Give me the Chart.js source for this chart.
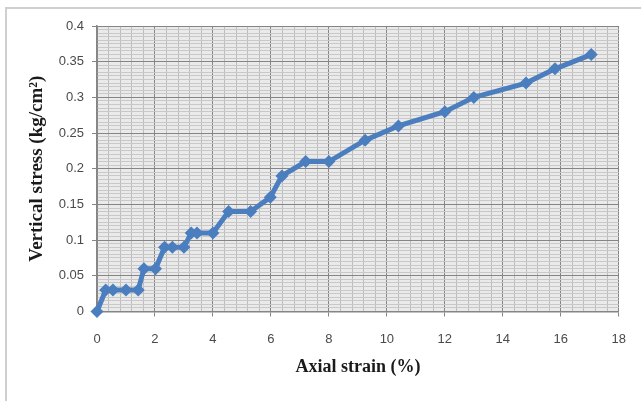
<!DOCTYPE html>
<html>
<head>
<meta charset="utf-8">
<script src="https://cdn.jsdelivr.net/npm/chart.js@4/dist/chart.umd.min.js"></script>
<style>
  html, body { margin: 0; padding: 0; background: #ffffff; overflow: hidden; }
  #wrap { position: relative; width: 641px; height: 401px; }
  #frame { position: absolute; left: 5px; top: 7px; width: 660px; height: 420px;
           border: 2px solid #cfcfcf; box-sizing: border-box; pointer-events: none; }
</style>
</head>
<body>
<div id="wrap">
  <canvas id="c" width="641" height="401"></canvas>
  <div id="frame"></div>
</div>
<script>
// Data
const axialStrain = [0, 0.3, 0.55, 1.0, 1.42, 1.62, 2.02, 2.33, 2.6, 3.0, 3.25, 3.45, 4.0, 4.54, 5.3, 5.98, 6.38, 7.2, 8.0, 9.25, 10.4, 12.0, 13.0, 14.8, 15.8, 17.05];
const verticalStress = [0, 0.03, 0.03, 0.03, 0.03, 0.06, 0.06, 0.09, 0.09, 0.09, 0.11, 0.11, 0.11, 0.14, 0.14, 0.16, 0.19, 0.21, 0.21, 0.24, 0.26, 0.28, 0.30, 0.32, 0.34, 0.36];
const xTitle = 'Axial strain (%)';
const yTitle = 'Vertical stress (kg/cm\u00B2)';
const xRange = [0, 18];
const yRange = [0, 0.4];
const xMajor = 2, xMinor = 0.4;
const yMajor = 0.05, yMinor = 0.005;

const points = axialStrain.map((x, i) => ({ x: x, y: verticalStress[i] }));

function isMajor(v, step) {
  const r = v / step;
  return Math.abs(r - Math.round(r)) < 1e-6;
}

const plotBg = {
  id: 'plotBg',
  beforeDraw(chart) {
    const a = chart.chartArea, ctx = chart.ctx;
    ctx.save();
    ctx.fillStyle = '#eaeaea';
    ctx.fillRect(a.left, a.top, a.right - a.left, a.bottom - a.top);
    ctx.restore();
  }
};

const tickFont = { family: "'Liberation Sans', Arial, sans-serif", size: 13 };
const tickColor = '#4a4a4a';

new Chart(document.getElementById('c'), {
  type: 'scatter',
  data: {
    datasets: [{
      data: points,
      showLine: true,
      borderColor: '#4a7ebf',
      backgroundColor: '#4a7ebf',
      borderWidth: 5,
      pointStyle: 'rectRot',
      pointRadius: 6.5,
      pointBorderWidth: 0,
      tension: 0,
      clip: false
    }]
  },
  options: {
    responsive: false,
    animation: false,
    devicePixelRatio: 1,
    layout: { padding: { left: 0, top: 26, right: 19, bottom: 0 } },
    plugins: { legend: { display: false }, tooltip: { enabled: false } },
    scales: {
      x: {
        type: 'linear',
        min: xRange[0], max: xRange[1],
        afterFit(scale) { scale.height = 89.5; },
        ticks: {
          stepSize: xMinor,
          autoSkip: false,
          maxRotation: 0,
          padding: 15,
          font: tickFont,
          color: tickColor,
          callback(v) { return isMajor(v, xMajor) ? String(Math.round(v)) : ''; }
        },
        grid: {
          color(ctx) { return ctx.tick && isMajor(ctx.tick.value, xMajor) ? '#858585' : '#bdbdbd'; },
          tickColor(ctx) { return ctx.tick && isMajor(ctx.tick.value, xMajor) ? '#858585' : 'rgba(0,0,0,0)'; },
          tickLength: 5,
          lineWidth: 1
        },
        border: { color: '#858585', width: 1.5 },
        title: {
          display: true,
          text: xTitle,
          color: '#1a1a1a',
          font: { family: "'Liberation Serif', 'Times New Roman', serif", size: 18, weight: 'bold' },
          padding: { top: 0, bottom: 23 }
        }
      },
      y: {
        type: 'linear',
        min: yRange[0], max: yRange[1],
        afterFit(scale) { scale.width = 97; },
        ticks: {
          stepSize: yMinor,
          autoSkip: false,
          padding: 8,
          font: tickFont,
          color: tickColor,
          callback(v) { return isMajor(v, yMajor) ? String(+v.toFixed(2)) : ''; }
        },
        grid: {
          color(ctx) { return ctx.tick && isMajor(ctx.tick.value, yMajor) ? '#858585' : '#c8c8c8'; },
          tickColor(ctx) { return ctx.tick && isMajor(ctx.tick.value, yMajor) ? '#858585' : 'rgba(0,0,0,0)'; },
          tickLength: 5,
          lineWidth: 1
        },
        border: { color: '#858585', width: 1.5 },
        title: {
          display: true,
          text: yTitle,
          color: '#1a1a1a',
          font: { family: "'Liberation Serif', 'Times New Roman', serif", size: 19, weight: 'bold' },
          padding: { top: 26, bottom: 0 }
        }
      }
    }
  },
  plugins: [plotBg]
});
</script>
</body>
</html>
